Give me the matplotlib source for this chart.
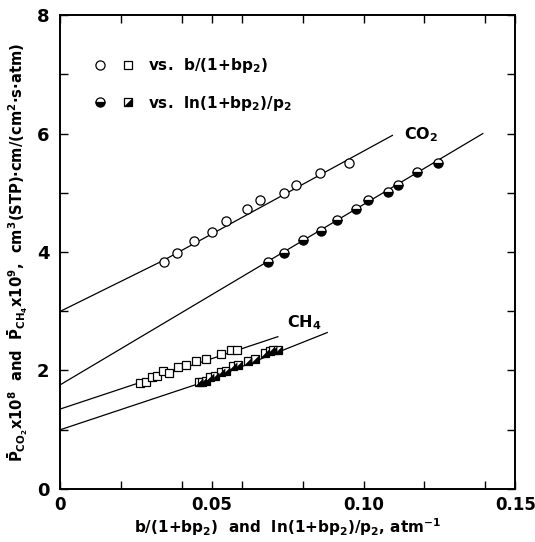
import numpy as np
import matplotlib
matplotlib.use('Agg')
import matplotlib.pyplot as plt
from matplotlib.legend_handler import HandlerTuple

plt.rcParams['font.family'] = ['DejaVu Sans']
plt.rcParams['font.weight'] = 'bold'
plt.rcParams['axes.labelweight'] = 'bold'
plt.rcParams['mathtext.fontset'] = 'custom'
plt.rcParams['mathtext.rm'] = 'DejaVu Sans:bold'
plt.rcParams['mathtext.it'] = 'DejaVu Sans:bold'
plt.rcParams['mathtext.bf'] = 'DejaVu Sans:bold'
plt.rcParams['mathtext.sf'] = 'DejaVu Sans:bold'

# CO2, vs b/(1+bp2)  (open circles)
co2_x_b = [0.0340, 0.0383, 0.0440, 0.0500, 0.0546, 0.0616, 0.0659, 0.0738, 0.0776, 0.0857, 0.0951]
co2_y_b = [3.84, 3.98, 4.19, 4.34, 4.52, 4.72, 4.88, 5.00, 5.14, 5.33, 5.51]
# CO2, vs ln(1+bp2)/p2  (half filled circles)
co2_x_ln = [0.0684, 0.0739, 0.0800, 0.0859, 0.0913, 0.0976, 0.1014, 0.1082, 0.1113, 0.1177, 0.1244]
co2_y_ln = [3.84, 3.99, 4.20, 4.35, 4.54, 4.73, 4.88, 5.02, 5.14, 5.35, 5.51]
# CH4, vs b/(1+bp2)  (open squares)
ch4_x_b = [0.0261, 0.0282, 0.0301, 0.0320, 0.0339, 0.0358, 0.0387, 0.0415, 0.0448, 0.0479, 0.0530, 0.0564, 0.0581]
ch4_y_b = [1.79, 1.80, 1.89, 1.90, 1.99, 1.96, 2.05, 2.10, 2.16, 2.19, 2.28, 2.34, 2.34]
# CH4, vs ln(1+bp2)/p2  (half filled squares)
ch4_x_ln = [0.0458, 0.0466, 0.0479, 0.0493, 0.0510, 0.0529, 0.0545, 0.0570, 0.0585, 0.0618, 0.0642, 0.0675, 0.0691, 0.0702, 0.0719]
ch4_y_ln = [1.80, 1.81, 1.82, 1.89, 1.90, 1.97, 1.99, 2.07, 2.09, 2.16, 2.19, 2.29, 2.33, 2.34, 2.34]

# fitted lines
fit_co2_b_x = [0.0, 0.034, 0.1095]
fit_co2_b_y = [3.0, 3.86, 5.97]
fit_co2_ln_x = [0.0, 0.1393]
fit_co2_ln_y = [1.76, 6.0]
fit_ch4_b_x = [0.0, 0.0717]
fit_ch4_b_y = [1.35, 2.57]
fit_ch4_ln_x = [0.0, 0.0458, 0.088]
fit_ch4_ln_y = [1.0, 1.78, 2.64]

xtick_pos = [0, 0.05, 0.10, 0.15]
xtick_lab = ['0', '0.05', '0.10', '0.15']
xtick_minor = [0.02, 0.04, 0.06, 0.08, 0.12, 0.14]
ytick_pos = [0, 2, 4, 6, 8]
ytick_minor = [1, 3, 5, 7]

fig = plt.figure(figsize=(5.35, 5.42), dpi=100)
ax = fig.add_axes([0.113, 0.098, 0.850, 0.874])

lw = 0.9
for fx, fy in [(fit_co2_b_x, fit_co2_b_y), (fit_co2_ln_x, fit_co2_ln_y),
               (fit_ch4_b_x, fit_ch4_b_y), (fit_ch4_ln_x, fit_ch4_ln_y)]:
    ax.plot(fx, fy, color='black', lw=lw, zorder=2)

ms_c = 6.6
ms_s = 5.2
mew = 0.9
c_open, = ax.plot(co2_x_b, co2_y_b, ls='none', marker='o', ms=ms_c, mfc='white',
                  mec='black', mew=mew, zorder=3)
c_half, = ax.plot(co2_x_ln, co2_y_ln, ls='none', marker='o', ms=ms_c, fillstyle='bottom',
                  mfc='black', mfcalt='white', mec='black', mew=mew, zorder=3)
s_open, = ax.plot(ch4_x_b, ch4_y_b, ls='none', marker='s', ms=ms_s, mfc='white',
                  mec='black', mew=mew, zorder=3)
s_half_bg, = ax.plot(ch4_x_ln, ch4_y_ln, ls='none', marker='s', ms=ms_s, mfc='white',
                     mec='black', mew=mew, zorder=3)
tri = [(-1, -1), (1, -1), (1, 1), (-1, -1)]
s_half_tri, = ax.plot(ch4_x_ln, ch4_y_ln, ls='none', marker=tri, ms=ms_s, mfc='black',
                      mec='black', mew=0.3, zorder=4)

ax.text(0.119, 5.98, 'CO$_2$', fontsize=11.5, ha='center', va='center')
ax.text(0.0805, 2.81, 'CH$_4$', fontsize=11.5, ha='center', va='center')

ax.set_xlim(0, 0.15)
ax.set_ylim(0, 8)
ax.set_xticks(xtick_pos)
ax.set_xticklabels(xtick_lab)
ax.set_xticks(xtick_minor, minor=True)
ax.set_yticks(ytick_pos)
ax.set_yticks(ytick_minor, minor=True)
ax.tick_params(which='both', direction='in', top=True, right=True, length=6, width=1.0)
ax.tick_params(axis='x', labelsize=12, pad=5)
ax.tick_params(axis='y', labelsize=13, pad=8)
for sp in ax.spines.values():
    sp.set_linewidth(1.4)

ax.set_xlabel('b/(1+bp$_2$)  and  ln(1+bp$_2$)/p$_2$, atm$^{-1}$', fontsize=11,
              fontweight='bold', labelpad=2)
ax.set_ylabel(r'$\bar{P}_{CO_2}$x10$^8$  and  $\bar{P}_{CH_4}$x10$^9$,  cm$^3$(STP)·cm/(cm$^2$·s·atm)',
              fontsize=10.6, fontweight='bold', labelpad=5)

inner = (s_half_bg, s_half_tri)
h1 = (c_open, s_open)
h2 = (c_half, inner)
ax.legend([h1, h2], ['vs.  b/(1+bp$_2$)', 'vs.  ln(1+bp$_2$)/p$_2$'],
          handler_map={h1: HandlerTuple(ndivide=None, pad=1.0),
                       h2: HandlerTuple(ndivide=None, pad=1.0),
                       inner: HandlerTuple(ndivide=1)},
          loc='upper left', bbox_to_anchor=(0.042, 0.942), frameon=False, numpoints=1,
          handlelength=2.7, handletextpad=0.9, labelspacing=1.2, fontsize=11)

fig.savefig('out.png', dpi=100)
